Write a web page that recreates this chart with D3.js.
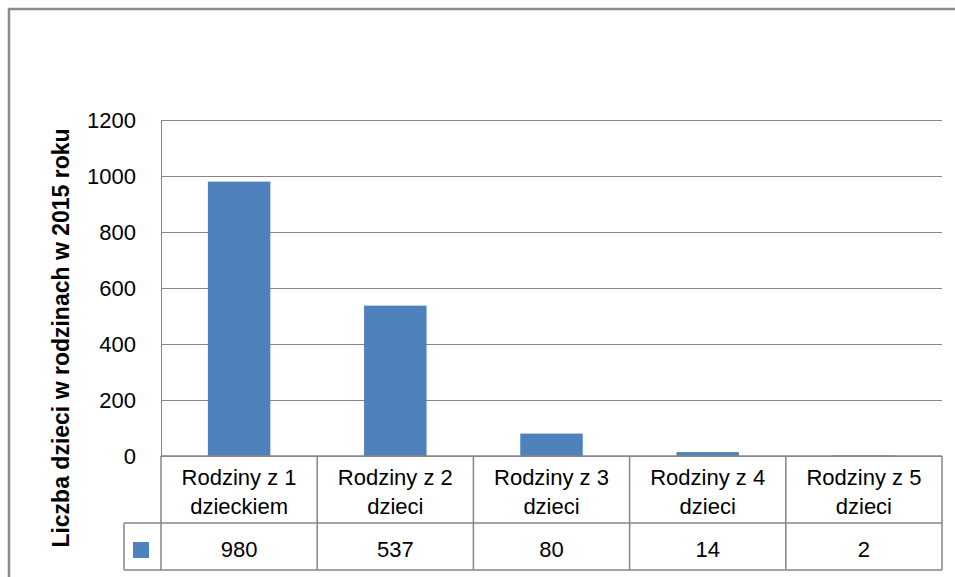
<!DOCTYPE html>
<html>
<head>
<meta charset="utf-8">
<script src="https://cdn.jsdelivr.net/npm/d3@7"></script>
<style>
  body { margin: 0; background: #fff; }
  text { font-family: "Liberation Sans", Arial, sans-serif; fill: #000; }
</style>
</head>
<body>
<svg id="chart" width="955" height="577"></svg>
<script>
const categories = [["Rodziny z 1", "dzieckiem"], ["Rodziny z 2", "dzieci"], ["Rodziny z 3", "dzieci"], ["Rodziny z 4", "dzieci"], ["Rodziny z 5", "dzieci"]];
const values = [980, 537, 80, 14, 2];
const yTicks = [0, 200, 400, 600, 800, 1000, 1200];
const yTitle = "Liczba dzieci w rodzinach w 2015 roku";

const svg = d3.select("#chart");
const gridColor = "#868686";
const barColor = "#4f81bd";

// frame round the whole chart (right and bottom edges run off the picture)
svg.append("rect").attr("x", 9).attr("y", 9).attr("width", 960).attr("height", 600)
    .attr("fill", "none").attr("stroke", "#8c8c8c").attr("stroke-width", 2.5);

const plot = {left: 161, right: 942, top: 120, bottom: 456};
const x = d3.scaleBand().domain(d3.range(categories.length)).range([plot.left, plot.right]);
const y = d3.scaleLinear().domain([0, 1200]).range([plot.bottom, plot.top]);

// gridlines
svg.append("g").selectAll("line").data(yTicks).enter().append("line")
    .attr("x1", plot.left).attr("x2", plot.right)
    .attr("y1", d => Math.round(y(d)) + 0.5).attr("y2", d => Math.round(y(d)) + 0.5)
    .attr("stroke", gridColor).attr("stroke-width", 1);
svg.append("line").attr("x1", plot.left + 0.5).attr("x2", plot.left + 0.5)
    .attr("y1", plot.top).attr("y2", plot.bottom).attr("stroke", gridColor);

// tick labels
svg.append("g").selectAll("text").data(yTicks).enter().append("text")
    .attr("x", 136).attr("y", d => y(d)).attr("dy", "0.36em")
    .attr("text-anchor", "end").style("font-size", "22px").text(d => d);

// bars
const bw = x.bandwidth() * 0.4;
svg.append("g").selectAll("rect").data(values).enter().append("rect")
    .attr("x", (d, i) => x(i) + (x.bandwidth() - bw) / 2)
    .attr("y", d => y(d)).attr("width", bw).attr("height", d => y(0) - y(d))
    .attr("fill", barColor);

// data table
const rowTop = 456, rowMid = 523, rowBot = 570, keyLeft = 124;
const t = svg.append("g").attr("stroke", gridColor).attr("stroke-width", 1.5);
t.append("line").attr("x1", plot.left).attr("x2", plot.right).attr("y1", rowTop).attr("y2", rowTop);
t.append("line").attr("x1", keyLeft).attr("x2", plot.right).attr("y1", rowMid).attr("y2", rowMid);
t.append("line").attr("x1", keyLeft).attr("x2", plot.right).attr("y1", rowBot).attr("y2", rowBot);
t.append("line").attr("x1", keyLeft).attr("x2", keyLeft).attr("y1", rowMid).attr("y2", rowBot);
t.selectAll(".v").data(d3.range(categories.length + 1)).enter().append("line")
    .attr("class", "v")
    .attr("x1", i => i < categories.length ? x(i) : plot.right)
    .attr("x2", i => i < categories.length ? x(i) : plot.right)
    .attr("y1", rowTop).attr("y2", rowBot);

svg.append("rect").attr("x", 133).attr("y", 542).attr("width", 16).attr("height", 16).attr("fill", barColor);

const cats = svg.append("g").selectAll("text").data(categories).enter().append("text")
    .attr("text-anchor", "middle").style("font-size", "22px");
cats.selectAll("tspan").data((d, i) => d.map(s => ({s, i}))).enter().append("tspan")
    .attr("x", d => x(d.i) + x.bandwidth() / 2)
    .attr("y", (d, j) => 485 + j * 29)
    .text(d => d.s);

svg.append("g").selectAll("text").data(values).enter().append("text")
    .attr("x", (d, i) => x(i) + x.bandwidth() / 2).attr("y", 557)
    .attr("text-anchor", "middle").style("font-size", "22px").text(d => d);

// axis title
svg.append("text").attr("transform", "translate(69," + 338 + ") rotate(-90)")
    .attr("text-anchor", "middle").style("font-size", "23px").style("font-weight", "bold")
    .text(yTitle);
</script>
</body>
</html>
